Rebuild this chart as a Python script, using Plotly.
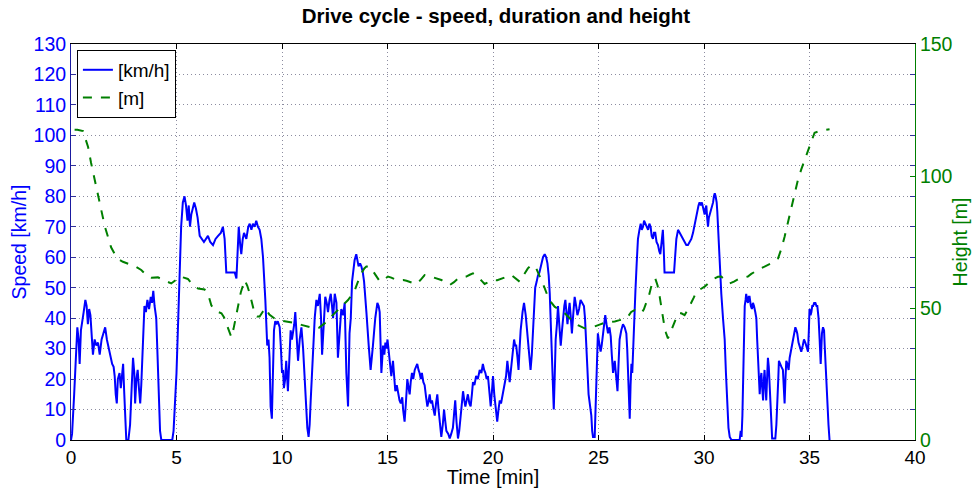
import plotly.graph_objects as go

# ---- data ----
speed_time_min = [
    0.00, 0.05, 0.15, 0.25, 0.30, 0.36, 0.41, 0.47, 0.52, 0.60, 0.68, 0.74, 0.80, 0.86, 0.92, 0.98,
    1.04, 1.12, 1.20, 1.28, 1.36, 1.45, 1.55, 1.62, 1.70, 1.80, 1.88, 1.95, 2.02, 2.07, 2.12, 2.17,
    2.22, 2.30, 2.36, 2.42, 2.47, 2.52, 2.58, 2.62, 2.72, 2.80, 2.88, 2.94, 3.00, 3.04, 3.10, 3.16,
    3.22, 3.28, 3.33, 3.40, 3.48, 3.55, 3.62, 3.70, 3.78, 3.84, 3.90, 3.96, 4.04, 4.10, 4.16, 4.22,
    4.28, 4.80, 4.86, 4.92, 5.00, 5.06, 5.14, 5.22, 5.30, 5.38, 5.45, 5.52, 5.58, 5.64, 5.70, 5.78,
    5.84, 5.92, 6.00, 6.10, 6.20, 6.30, 6.49, 6.60, 6.73, 6.85, 6.97, 7.10, 7.20, 7.28, 7.36, 7.50,
    7.65, 7.76, 7.84, 7.90, 7.95, 8.02, 8.07, 8.14, 8.20, 8.31, 8.40, 8.47, 8.55, 8.62, 8.70, 8.78,
    8.86, 8.94, 9.02, 9.10, 9.16, 9.21, 9.30, 9.36, 9.41, 9.46, 9.52, 9.57, 9.62, 9.68, 9.73, 9.80,
    9.89, 9.95, 10.00, 10.05, 10.09, 10.15, 10.20, 10.28, 10.34, 10.41, 10.47, 10.52, 10.58, 10.63,
    10.70, 10.76, 10.84, 10.92, 11.00, 11.07, 11.14, 11.20, 11.26, 11.31, 11.36, 11.42, 11.47, 11.55,
    11.63, 11.70, 11.79, 11.85, 11.90, 11.97, 12.05, 12.12, 12.18, 12.25, 12.31, 12.37, 12.42, 12.50,
    12.58, 12.65, 12.72, 12.81, 12.90, 12.97, 13.05, 13.13, 13.20, 13.26, 13.32, 13.38, 13.44, 13.52,
    13.58, 13.63, 13.70, 13.76, 13.83, 13.89, 14.00, 14.05, 14.11, 14.20, 14.25, 14.31, 14.37, 14.42,
    14.52, 14.58, 14.63, 14.68, 14.71, 14.79, 14.85, 14.90, 14.95, 15.00, 15.05, 15.10, 15.18, 15.26,
    15.32, 15.37, 15.44, 15.50, 15.57, 15.63, 15.70, 15.74, 15.81, 15.87, 15.94, 16.00, 16.05, 16.10,
    16.16, 16.22, 16.29, 16.35, 16.41, 16.47, 16.52, 16.58, 16.63, 16.70, 16.76, 16.83, 16.89, 16.95,
    17.00, 17.05, 17.11, 17.18, 17.24, 17.30, 17.36, 17.42, 17.47, 17.52, 17.55, 17.62, 17.68, 17.74,
    17.79, 17.88, 17.95, 18.02, 18.10, 18.16, 18.21, 18.27, 18.34, 18.40, 18.46, 18.52, 18.58, 18.64,
    18.69, 18.75, 18.81, 18.88, 18.94, 19.00, 19.05, 19.12, 19.20, 19.28, 19.37, 19.45, 19.52, 19.58,
    19.64, 19.70, 19.76, 19.84, 19.89, 19.95, 20.00, 20.06, 20.11, 20.16, 20.20, 20.26, 20.32, 20.38,
    20.43, 20.50, 20.55, 20.62, 20.68, 20.74, 20.79, 20.85, 20.90, 20.95, 21.00, 21.05, 21.10, 21.16,
    21.21, 21.26, 21.31, 21.40, 21.47, 21.55, 21.63, 21.70, 21.78, 21.84, 21.90, 21.95, 22.00, 22.07,
    22.13, 22.20, 22.26, 22.32, 22.37, 22.45, 22.52, 22.58, 22.64, 22.69, 22.75, 22.80, 22.84, 22.88,
    22.93, 22.97, 23.03, 23.08, 23.14, 23.21, 23.27, 23.32, 23.38, 23.43, 23.48, 23.53, 23.58, 23.63,
    23.68, 23.74, 23.80, 23.87, 23.94, 24.00, 24.08, 24.15, 24.23, 24.31, 24.36, 24.42, 24.47, 24.53,
    24.60, 24.66, 24.70, 24.74, 24.82, 24.86, 24.90, 24.97, 25.03, 25.10, 25.15, 25.21, 25.27, 25.32,
    25.38, 25.45, 25.52, 25.58, 25.63, 25.69, 25.77, 25.84, 25.90, 25.95, 26.00, 26.08, 26.16, 26.24,
    26.32, 26.36, 26.40, 26.44, 26.48, 26.52, 26.56, 26.60, 26.64, 26.70, 26.75, 26.81, 26.87, 26.94,
    27.00, 27.05, 27.11, 27.16, 27.22, 27.28, 27.35, 27.41, 27.47, 27.52, 27.58, 27.63, 27.69, 27.75,
    27.82, 27.88, 27.93, 27.99, 28.05, 28.09, 28.13, 28.20, 28.29, 28.40, 28.50, 28.58, 28.63, 28.69,
    28.77, 28.85, 28.93, 29.00, 29.08, 29.16, 29.24, 29.32, 29.40, 29.48, 29.56, 29.62, 29.68, 29.74,
    29.79, 29.85, 29.90, 29.96, 30.03, 30.07, 30.11, 30.15, 30.19, 30.23, 30.27, 30.33, 30.38, 30.43,
    30.47, 30.51, 30.55, 30.60, 30.63, 30.69, 30.75, 30.82, 30.90, 30.98, 31.04, 31.10, 31.16, 31.22,
    31.30, 31.50, 31.69, 31.74, 31.78, 31.82, 31.85, 31.89, 31.93, 31.97, 32.00, 32.04, 32.08, 32.12,
    32.16, 32.22, 32.27, 32.32, 32.37, 32.43, 32.48, 32.52, 32.56, 32.60, 32.64, 32.68, 32.72, 32.76,
    32.80, 32.84, 32.87, 32.91, 32.95, 33.00, 33.03, 33.07, 33.11, 33.15, 33.19, 33.23, 33.27, 33.38,
    33.43, 33.48, 33.52, 33.55, 33.60, 33.67, 33.74, 33.78, 33.82, 33.86, 33.90, 33.95, 34.01, 34.06,
    34.11, 34.16, 34.22, 34.28, 34.33, 34.38, 34.42, 34.48, 34.53, 34.57, 34.61, 34.68, 34.74, 34.80,
    34.85, 34.90, 34.93, 34.97, 35.00, 35.05, 35.09, 35.13, 35.17, 35.22, 35.28, 35.33, 35.37, 35.40,
    35.43, 35.48, 35.53, 35.56, 35.59, 35.64, 35.69, 35.72, 35.75, 35.80, 35.84, 35.90, 35.95,
]
speed_kmh = [
    0, 2, 15, 30, 37, 33, 25, 36, 38, 42, 46, 44, 38, 43, 41, 33,
    28, 33, 31, 32, 28, 33, 36, 37, 33, 30, 27, 25, 24, 21, 15, 12,
    20, 22, 17, 23, 25, 16, 5, 0, 0, 5, 18, 27, 22, 12, 20, 23,
    17, 12, 18, 30, 44, 42, 46, 43, 47, 45, 49, 44, 40, 28, 12, 3,
    0, 0, 3, 10, 22, 35, 55, 70, 78, 80, 77, 72, 77, 70, 74, 77,
    78, 76, 73, 67, 66, 65, 67, 65, 64, 66, 67, 68, 70, 66, 55, 55,
    55, 55, 53, 62, 70, 64, 61, 66, 68, 66, 70, 71, 69, 71, 70, 72,
    70, 69, 66, 60, 54, 46, 31, 33, 27, 11, 7, 20, 36, 39, 38, 39,
    37, 30, 22, 23, 17, 20, 26, 16, 25, 36, 33, 35, 38, 42,
    35, 26, 33, 37, 30, 20, 11, 4, 1, 5, 13, 22, 31, 40,
    46, 44, 48, 40, 28, 38, 47, 45, 42, 46, 48, 44, 40, 48,
    45, 27, 35, 43, 41, 45, 22, 11, 35, 40, 52, 56, 59, 61,
    58, 57, 58, 57, 55, 52, 42, 36, 31, 23, 26, 31, 36, 40,
    45, 44, 42, 32, 22, 31, 28, 32, 30, 33, 29, 26, 21, 26,
    20, 16, 18, 15, 13, 12, 14, 10, 6, 12, 20, 17, 15, 19,
    22, 20, 23, 24, 25, 23, 22, 20, 22, 19, 18, 14, 11, 13,
    15, 12, 13, 10, 8, 12, 15, 10, 7, 3, 1, 5, 10, 6,
    3, 2, 0.5, 2, 4, 9, 13, 6, 0.5, 3, 8, 12, 16, 13,
    11, 13, 15, 12, 11, 15, 19, 18, 21, 20, 23, 22, 25, 23,
    22, 20, 21, 15, 11, 16, 21, 15, 11, 8, 6, 10, 13, 12,
    14, 16, 18, 21, 26, 22, 19, 23, 26, 30, 33, 31, 31, 27,
    23, 30, 36, 42, 45, 41, 35, 28, 23, 28, 35, 44, 50, 52,
    54, 55, 57, 59, 60, 61, 60, 58, 54, 48, 36, 22, 15, 10,
    22, 33, 38, 44, 38, 31, 36, 41, 44, 46, 42, 38, 42, 45,
    41, 35, 41, 47, 44, 41, 43, 46, 45, 44, 40, 33, 24, 15,
    11, 8, 3, 1, 1, 10, 22, 35, 32, 29, 31, 35, 38, 41,
    38, 35, 37, 34, 28, 22, 26, 21, 16, 25, 33, 36, 38, 37,
    35, 30, 22, 12, 7, 18, 25, 22, 31, 40, 49, 58, 66, 69,
    71, 69, 70, 72, 71, 70, 69, 71, 70, 67, 66, 68, 68, 65,
    64, 62, 61, 65, 69, 63, 55, 55, 55, 55, 55, 55, 60, 66,
    69, 68, 67, 66, 65, 64, 64, 65, 66, 68, 71, 73, 76, 77,
    78, 77, 78, 76, 74, 76, 77, 73, 70, 73, 74, 75, 76, 78,
    80, 81, 80, 78, 75, 66, 56, 48, 40, 33, 22, 11, 4, 1,
    0, 0, 0, 3, 1, 8, 22, 34, 44, 46, 48, 46, 45, 47,
    47, 44, 43, 45, 44, 42, 40, 33, 26, 19, 15, 20, 22, 17,
    13, 20, 23, 18, 13, 22, 27, 24, 18, 10, 3, 0.5, 0.5, 0.5,
    5, 11, 20, 26, 25, 24, 23, 18, 12, 20, 26, 25, 23, 27,
    29, 31, 33, 35, 37, 36, 35, 32, 31, 30, 29, 31, 33, 32,
    31, 30, 29, 36, 43, 41, 42, 44, 44, 45, 45, 44, 44, 42,
    40, 33, 25, 30, 35, 37, 36, 31, 26, 18, 11, 5, 0,
]

height_time_min = [
    0.17, 0.30, 0.57, 0.70, 0.81, 0.95, 1.12, 1.28, 1.44, 1.60, 1.75, 1.90, 2.07, 2.25, 2.46, 2.66,
    2.86, 3.10, 3.33, 3.57, 3.81, 4.12, 4.44, 4.75, 4.95, 5.15, 5.35, 5.54, 5.80, 6.02, 6.33, 6.49,
    6.65, 6.81, 6.97, 7.13, 7.25, 7.36, 7.50, 7.60, 7.70, 7.80, 7.90, 8.05, 8.23, 8.35, 8.47, 8.60,
    8.70, 8.82, 8.94, 9.08, 9.21, 9.40, 9.65, 10.00, 10.28, 10.60, 10.92, 11.20, 11.55, 11.75, 11.94,
    12.15, 12.34, 12.60, 12.81, 13.00, 13.13, 13.30, 13.44, 13.60, 13.76, 13.90, 14.00, 14.12, 14.23,
    14.35, 14.47, 14.60, 14.71, 14.85, 15.02, 15.18, 15.34, 15.55, 15.74, 15.90, 16.05, 16.20, 16.36,
    16.55, 16.76, 16.95, 17.16, 17.35, 17.55, 17.75, 17.95, 18.15, 18.34, 18.55, 18.73, 18.90, 19.05,
    19.20, 19.37, 19.50, 19.60, 19.80, 19.99, 20.20, 20.40, 20.55, 20.70, 20.87, 21.05, 21.26, 21.38,
    21.50, 21.65, 21.82, 21.95, 22.05, 22.18, 22.29, 22.45, 22.60, 22.75, 22.92, 23.15, 23.40, 23.65,
    23.87, 24.10, 24.34, 24.58, 24.82, 25.05, 25.29, 25.52, 25.77, 26.00, 26.24, 26.40, 26.55, 26.71,
    26.87, 27.03, 27.15, 27.27, 27.40, 27.50, 27.60, 27.69, 27.80, 27.90, 28.00, 28.10, 28.20, 28.29,
    28.40, 28.53, 28.65, 28.77, 28.93, 29.08, 29.24, 29.40, 29.52, 29.64, 29.84, 30.03, 30.27, 30.50,
    30.66, 30.82, 31.02, 31.22, 31.42, 31.61, 31.85, 32.08, 32.24, 32.40, 32.63, 32.87, 33.03, 33.26,
    33.51, 33.67, 33.82, 33.98, 34.14, 34.30, 34.45, 34.61, 34.77, 34.90, 35.00, 35.12, 35.24, 35.56,
    35.95,
]
height_m = [
    117.5, 117.5, 117, 114, 111, 105, 98.5, 92, 86, 81, 77, 73, 70.5, 68.5, 67.5, 67,
    66.3, 65.5, 64.4, 62.5, 61.5, 61.6, 60.4, 59.3, 60.5, 62, 61.5, 61, 58.5, 57.4, 57, 55.5,
    51, 49.2, 48.5, 48, 46.5, 44.2, 40.5, 39, 42, 46, 50.5, 56, 60.6, 58.5, 55.5, 51,
    48, 46.8, 46.8, 48.5, 50, 47.5, 46, 45.2, 44.9, 44.3, 43.6, 43, 42.3, 42.5, 43.6,
    45, 46.8, 49, 50.5, 52, 53, 55, 56.5, 60, 63.1, 65, 65.7, 65.8, 65,
    63.5, 61.9, 60.5, 60, 61, 61.9, 61.5, 60.9, 60.5, 60.6, 60.3, 60, 59.5, 59.1,
    60.5, 62.5, 62.2, 61.6, 61.2, 60.6, 59.6, 58.7, 59.8, 61.2, 61.6, 61.9, 62.6, 63.1,
    62.4, 61.2, 60, 59.1, 59.8, 60.6, 60.5, 61, 61.6, 62, 62.5, 61.3, 60, 61.5,
    63.1, 65, 66.3, 65.8, 65, 62.8, 60.6, 57.5, 54.3, 52.2, 50.5, 49.2, 48, 46,
    44.2, 43.2, 42.3, 42.6, 43, 43.7, 44.4, 44.7, 44.9, 45.4, 46, 46.8, 48.5, 49.2,
    48.5, 48, 49.5, 51.8, 55, 58.1, 60.3, 61.2, 58.5, 54.3, 49, 44.2, 40.5, 38.5,
    40.5, 43, 45.8, 48, 48, 47.3, 49.5, 51.8, 54, 56.2, 57.3, 58.1, 59.8, 61.2,
    61.8, 61.9, 60.5, 59.3, 60, 60.9, 61.5, 61.9, 62.9, 63.8, 64.8, 65.7, 66.3, 67.2,
    68.8, 72.5, 77, 82.5, 88.4, 93.5, 98.5, 102.5, 106, 108.8, 111, 114, 116.4, 117.2,
    117.7,
]

x_ticks = [0, 5, 10, 15, 20, 25, 30, 35, 40]
speed_ticks = [0, 10, 20, 30, 40, 50, 60, 70, 80, 90, 100, 110, 120, 130]
height_ticks = [0, 50, 100, 150]

BLUE = "#0000ff"
GREEN = "#007f00"
FONT = "Liberation Sans, Arial, Helvetica, sans-serif"

fig = go.Figure()
fig.add_trace(go.Scatter(
    x=speed_time_min, y=speed_kmh, name="[km/h]", mode="lines",
    line=dict(color=BLUE, width=2), yaxis="y",
))
fig.add_trace(go.Scatter(
    x=height_time_min, y=height_m, name="[m]", mode="lines",
    line=dict(color=GREEN, width=2, dash="dash"), yaxis="y2",
))

grid = dict(showgrid=True, gridcolor="#8c8ca0", griddash="1px,3px", gridwidth=1)

fig.update_layout(
    width=976, height=488,
    margin=dict(l=71, r=61, t=44, b=48, autoexpand=False),
    paper_bgcolor="white", plot_bgcolor="white",
    font=dict(family=FONT, size=19, color="black"),
    title=dict(
        text="<b>Drive cycle - speed, duration and height</b>",
        x=0.5035, xanchor="center", y=1 - 16 / 488, yanchor="middle",
        xref="paper", yref="container",
        font=dict(family=FONT, size=20.5, color="black"),
    ),
    showlegend=True,
    legend=dict(
        x=0.007, y=0.985, xanchor="left", yanchor="top",
        bgcolor="white", bordercolor="black", borderwidth=1,
        font=dict(family=FONT, size=19, color="black"),
        itemwidth=30, tracegroupgap=0,
    ),
    xaxis=dict(
        range=[0, 40], tickvals=x_ticks, ticktext=[str(v) for v in x_ticks],
        ticks="inside", ticklen=5, tickcolor="black",
        showline=True, linecolor="black", linewidth=1, mirror="ticks",
        zeroline=False, automargin=False, tickfont=dict(size=19, color="black"),
        title=dict(text="Time [min]", font=dict(size=20, color="black"), standoff=3),
        **grid,
    ),
    yaxis=dict(
        range=[0, 130], tickvals=speed_ticks, ticktext=[str(v) for v in speed_ticks],
        ticks="inside", ticklen=5, tickcolor="#30309a",
        showline=True, linecolor="#1a1aa0", linewidth=1, mirror="ticks",
        zeroline=False, automargin=False, tickfont=dict(size=19.5, color=BLUE),
        title=dict(text="Speed [km/h]", font=dict(size=19.5, color=BLUE), standoff=1),
        **grid,
    ),
    yaxis2=dict(
        range=[0, 150], tickvals=height_ticks, ticktext=[str(v) for v in height_ticks],
        overlaying="y", side="right", anchor="x",
        ticks="inside", ticklen=5, tickcolor=GREEN,
        showline=True, linecolor=GREEN, linewidth=1, automargin=False,
        showgrid=False, zeroline=False, tickfont=dict(size=19.5, color=GREEN),
        title=dict(text="Height [m]", font=dict(size=19.5, color=GREEN), standoff=1),
    ),
)

fig.write_html("out.html")
